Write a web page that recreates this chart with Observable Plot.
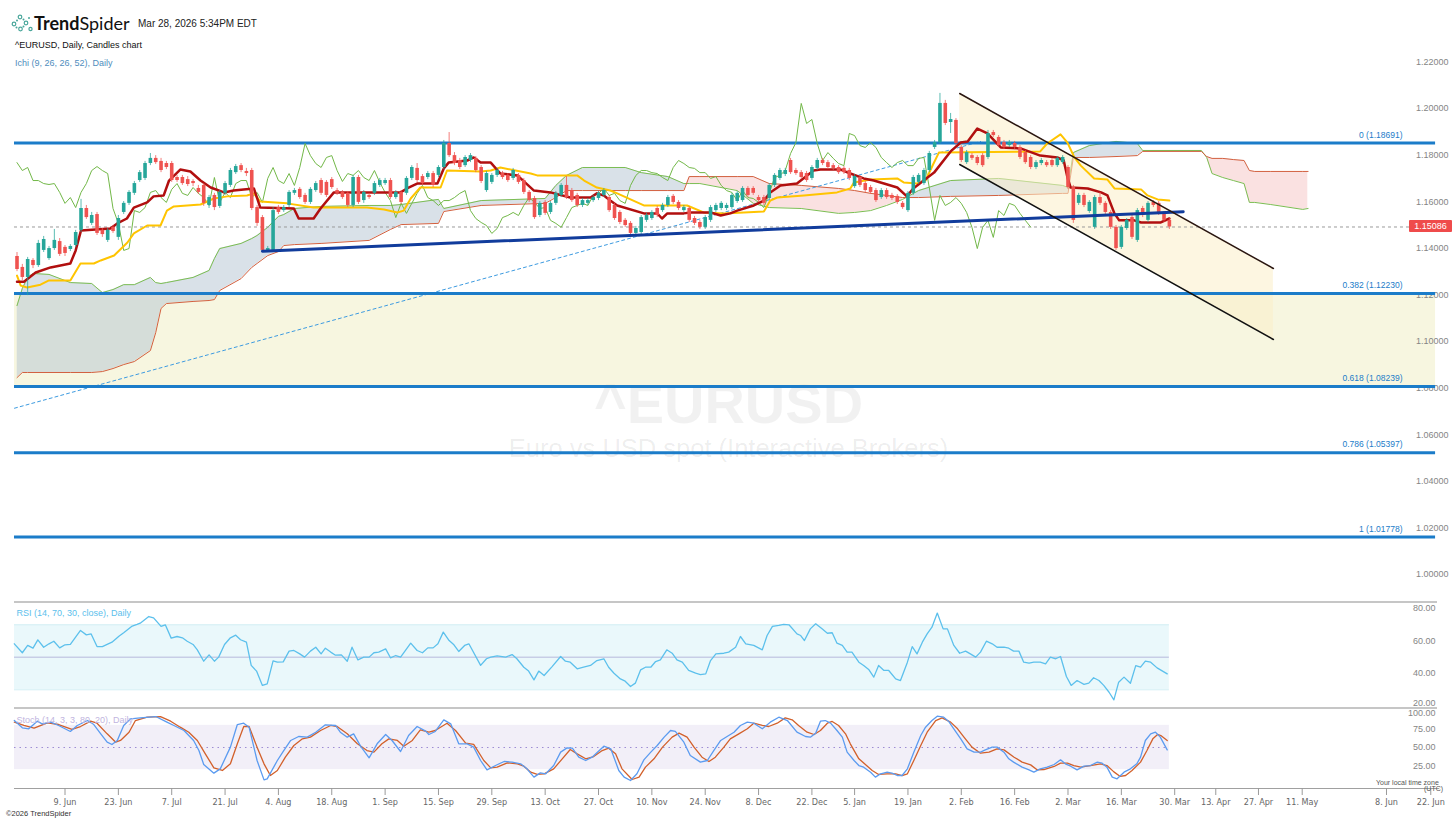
<!DOCTYPE html>
<html><head><meta charset="utf-8">
<script src="https://cdn.jsdelivr.net/npm/d3@7"></script>
<script src="https://cdn.jsdelivr.net/npm/@observablehq/plot@0.6"></script>
<style>
html,body{margin:0;padding:0;background:#fff;}
body{width:1456px;height:819px;position:relative;overflow:hidden;font-family:"Liberation Sans",Arial,sans-serif;}
.pane{position:absolute;left:0;}
.sep{position:absolute;left:14px;width:1423px;height:0;border-top:2px solid #c6c6c6;z-index:4;}
.hdr{position:absolute;z-index:5;white-space:nowrap;}
</style></head><body>
<div id="main" class="pane" style="top:0"></div>
<div id="rsi" class="pane" style="top:604px"></div>
<div id="stoch" class="pane" style="top:709px"></div>
<div class="sep" style="top:601px"></div>
<div class="sep" style="top:707px"></div>
<svg class="hdr" width="22" height="18" viewBox="0 0 22 18" style="left:11px;top:14px">
 <g fill="none" stroke="#4aa79b" stroke-width="1.2"><circle cx="3" cy="10" r="1.8"/><circle cx="9" cy="3" r="1.8"/><circle cx="9.5" cy="15" r="1.8"/><circle cx="15" cy="9" r="1.8"/><circle cx="19.5" cy="15" r="1.6"/></g>
 <g fill="#4aa79b"><circle cx="6" cy="6.5" r="1"/><circle cx="12.5" cy="5.5" r="1"/><circle cx="12.5" cy="12.5" r="1"/><circle cx="5.5" cy="13.5" r="1"/><circle cx="18" cy="4" r="1"/></g>
</svg>
<div class="hdr" style="left:34px;top:12px;font-family:Lato,'Open Sans',sans-serif;font-size:18px;color:#111;"><b>Trend</b>Spider</div>
<div class="hdr" style="left:138px;top:18px;font-size:10px;color:#222;">Mar 28, 2026 5:34PM EDT</div>
<div class="hdr" style="left:15px;top:40px;font-size:9px;color:#111;">^EURUSD, Daily, Candles chart</div>
<div class="hdr" style="left:15px;top:58px;font-size:9px;color:#4f8dbd;">Ichi (9, 26, 26, 52), Daily</div>
<div class="hdr" style="left:1376px;top:779px;font-size:7px;color:#555;">Your local time zone</div>
<div class="hdr" style="left:1424px;top:785px;font-size:7px;color:#555;">(UTC)</div>
<div class="hdr" style="left:6px;top:809px;font-size:7.5px;color:#333;">©2026 TrendSpider</div>
<div id="pricebox" class="hdr" style="left:1409px;width:43px;height:12px;background:#ef4b4b;color:#fff;font-size:9px;line-height:12px;text-align:center;border-radius:1px;"></div>
<script>
// ---------------- DATA ----------------
const openP = [1.1382,1.1335,1.1292,1.1365,1.1343,1.1408,1.1373,1.1416,1.1446,1.1421,
1.1412,1.1429,1.1494,1.1588,1.1524,1.1562,1.1494,1.1451,1.1507,1.1464,
1.1571,1.1610,1.1653,1.1708,1.1717,1.1781,1.1803,1.1790,1.1781,1.1781,
1.1721,1.1721,1.1712,1.1704,1.1674,1.1687,1.1601,1.1644,1.1597,1.1653,
1.1687,1.1742,1.1772,1.1747,1.1751,1.1592,1.1549,1.1408,1.1408,1.1592,
1.1579,1.1601,1.1653,1.1670,1.1644,1.1614,1.1665,1.1708,1.1700,1.1712,
1.1665,1.1657,1.1653,1.1601,1.1721,1.1622,1.1644,1.1653,1.1687,1.1695,
1.1708,1.1635,1.1657,1.1653,1.1717,1.1760,1.1725,1.1721,1.1738,1.1730,
1.1764,1.1867,1.1815,1.1794,1.1772,1.1794,1.1803,1.1764,1.1665,1.1700,
1.1730,1.1738,1.1730,1.1717,1.1730,1.1708,1.1657,1.1631,1.1558,1.1614,
1.1571,1.1610,1.1644,1.1687,1.1665,1.1644,1.1601,1.1610,1.1622,1.1631,
1.1644,1.1635,1.1601,1.1571,1.1537,1.1524,1.1481,1.1485,1.1537,1.1545,
1.1588,1.1579,1.1601,1.1640,1.1614,1.1579,1.1588,1.1545,1.1528,1.1507,
1.1537,1.1579,1.1588,1.1588,1.1592,1.1618,1.1622,1.1674,1.1674,1.1635,
1.1635,1.1631,1.1687,1.1717,1.1734,1.1794,1.1751,1.1742,1.1738,1.1717,
1.1760,1.1794,1.1785,1.1772,1.1764,1.1760,1.1751,1.1682,1.1721,1.1695,
1.1678,1.1665,1.1635,1.1665,1.1644,1.1640,1.1610,1.1579,1.1653,1.1700,
1.1695,1.1751,1.1850,1.1871,1.2039,1.1957,1.1966,1.1850,1.1785,1.1815,
1.1807,1.1815,1.1807,1.1914,1.1893,1.1871,1.1858,1.1867,1.1850,1.1828,
1.1807,1.1764,1.1781,1.1785,1.1794,1.1772,1.1785,1.1764,1.1678,1.1610,
1.1644,1.1575,1.1507,1.1635,1.1610,1.1571,1.1507,1.1421,1.1502,1.1549,
1.1451,1.1588,1.1537,1.1614,1.1610,1.1567,1.1537];
const closeP = [1.1326,1.1292,1.1369,1.1343,1.1438,1.1455,1.1416,1.1451,1.1391,1.1395,
1.1425,1.1485,1.1588,1.1549,1.1558,1.1481,1.1476,1.1494,1.1489,1.1545,
1.1610,1.1657,1.1695,1.1742,1.1781,1.1803,1.1785,1.1751,1.1764,1.1708,
1.1708,1.1695,1.1691,1.1695,1.1657,1.1610,1.1635,1.1592,1.1657,1.1695,
1.1751,1.1768,1.1751,1.1738,1.1588,1.1524,1.1408,1.1416,1.1579,1.1571,
1.1592,1.1657,1.1665,1.1635,1.1614,1.1670,1.1695,1.1653,1.1644,1.1678,
1.1653,1.1635,1.1601,1.1721,1.1614,1.1657,1.1635,1.1695,1.1708,1.1708,
1.1635,1.1657,1.1614,1.1717,1.1764,1.1708,1.1695,1.1738,1.1687,1.1764,
1.1867,1.1815,1.1781,1.1764,1.1807,1.1815,1.1751,1.1704,1.1738,1.1730,
1.1751,1.1721,1.1708,1.1751,1.1700,1.1657,1.1622,1.1549,1.1610,1.1567,
1.1610,1.1653,1.1687,1.1635,1.1622,1.1601,1.1622,1.1622,1.1635,1.1653,
1.1665,1.1579,1.1545,1.1528,1.1515,1.1481,1.1502,1.1549,1.1558,1.1571,
1.1558,1.1601,1.1635,1.1614,1.1588,1.1592,1.1537,1.1524,1.1507,1.1549,
1.1592,1.1601,1.1610,1.1601,1.1644,1.1653,1.1674,1.1644,1.1653,1.1622,
1.1610,1.1687,1.1730,1.1751,1.1751,1.1742,1.1738,1.1721,1.1708,1.1764,
1.1794,1.1781,1.1764,1.1760,1.1742,1.1742,1.1717,1.1725,1.1687,1.1665,
1.1657,1.1622,1.1665,1.1635,1.1631,1.1614,1.1592,1.1653,1.1721,1.1730,
1.1751,1.1824,1.1871,1.2039,1.1953,1.1970,1.1867,1.1794,1.1828,1.1803,
1.1781,1.1772,1.1910,1.1901,1.1858,1.1850,1.1871,1.1850,1.1807,1.1785,
1.1764,1.1785,1.1794,1.1772,1.1772,1.1803,1.1807,1.1678,1.1537,1.1644,
1.1601,1.1614,1.1635,1.1610,1.1571,1.1507,1.1416,1.1507,1.1537,1.1464,
1.1579,1.1558,1.1610,1.1601,1.1567,1.1537,1.15086];
const highP = [1.1399,1.1348,1.1378,1.1373,1.1451,1.1468,1.1425,1.1498,1.1459,1.1429,
1.1433,1.1494,1.1627,1.1601,1.1571,1.1571,1.1502,1.1502,1.1515,1.1558,
1.1618,1.1665,1.1704,1.1751,1.1790,1.1824,1.1815,1.1803,1.1790,1.1790,
1.1730,1.1730,1.1725,1.1712,1.1687,1.1695,1.1644,1.1653,1.1665,1.1704,
1.1760,1.1777,1.1781,1.1760,1.1760,1.1601,1.1558,1.1425,1.1592,1.1601,
1.1601,1.1665,1.1674,1.1678,1.1653,1.1678,1.1704,1.1717,1.1708,1.1721,
1.1674,1.1665,1.1661,1.1730,1.1730,1.1665,1.1653,1.1704,1.1717,1.1717,
1.1717,1.1665,1.1665,1.1725,1.1772,1.1781,1.1734,1.1747,1.1747,1.1772,
1.1880,1.1914,1.1828,1.1803,1.1815,1.1824,1.1811,1.1772,1.1747,1.1738,
1.1760,1.1747,1.1738,1.1760,1.1738,1.1717,1.1665,1.1640,1.1618,1.1622,
1.1618,1.1661,1.1695,1.1725,1.1674,1.1653,1.1631,1.1631,1.1644,1.1661,
1.1674,1.1644,1.1610,1.1579,1.1545,1.1532,1.1511,1.1558,1.1567,1.1579,
1.1597,1.1610,1.1644,1.1648,1.1622,1.1601,1.1597,1.1554,1.1537,1.1558,
1.1601,1.1610,1.1618,1.1610,1.1653,1.1661,1.1682,1.1682,1.1682,1.1644,
1.1644,1.1695,1.1738,1.1760,1.1760,1.1803,1.1760,1.1751,1.1747,1.1772,
1.1803,1.1803,1.1794,1.1781,1.1772,1.1768,1.1760,1.1734,1.1730,1.1704,
1.1687,1.1674,1.1674,1.1674,1.1653,1.1648,1.1618,1.1661,1.1730,1.1738,
1.1760,1.1833,1.1880,1.2082,1.2052,1.1996,1.1974,1.1858,1.1837,1.1824,
1.1815,1.1824,1.1923,1.1923,1.1901,1.1880,1.1880,1.1876,1.1858,1.1837,
1.1815,1.1794,1.1803,1.1794,1.1803,1.1811,1.1815,1.1772,1.1687,1.1653,
1.1653,1.1622,1.1644,1.1657,1.1618,1.1579,1.1515,1.1515,1.1545,1.1558,
1.1588,1.1597,1.1618,1.1622,1.1618,1.1575,1.1545];
const lowP = [1.1317,1.1279,1.1214,1.1330,1.1335,1.1399,1.1365,1.1408,1.1382,1.1382,
1.1403,1.1421,1.1485,1.1541,1.1515,1.1472,1.1464,1.1442,1.1481,1.1451,
1.1562,1.1601,1.1644,1.1700,1.1708,1.1772,1.1777,1.1742,1.1755,1.1700,
1.1700,1.1687,1.1682,1.1682,1.1648,1.1597,1.1588,1.1579,1.1588,1.1644,
1.1678,1.1734,1.1742,1.1725,1.1579,1.1511,1.1399,1.1399,1.1399,1.1562,
1.1571,1.1592,1.1644,1.1627,1.1605,1.1605,1.1657,1.1644,1.1635,1.1670,
1.1644,1.1627,1.1592,1.1592,1.1605,1.1610,1.1627,1.1644,1.1678,1.1687,
1.1627,1.1627,1.1605,1.1644,1.1708,1.1700,1.1687,1.1712,1.1678,1.1721,
1.1755,1.1807,1.1772,1.1755,1.1764,1.1785,1.1742,1.1695,1.1657,1.1691,
1.1721,1.1712,1.1700,1.1708,1.1691,1.1648,1.1614,1.1541,1.1549,1.1558,
1.1562,1.1601,1.1635,1.1627,1.1614,1.1592,1.1592,1.1601,1.1614,1.1622,
1.1635,1.1571,1.1537,1.1519,1.1507,1.1472,1.1472,1.1476,1.1528,1.1537,
1.1549,1.1571,1.1592,1.1605,1.1579,1.1571,1.1528,1.1515,1.1498,1.1498,
1.1528,1.1571,1.1579,1.1579,1.1584,1.1610,1.1614,1.1635,1.1644,1.1614,
1.1601,1.1622,1.1678,1.1708,1.1725,1.1734,1.1730,1.1712,1.1700,1.1708,
1.1751,1.1772,1.1755,1.1751,1.1734,1.1734,1.1708,1.1674,1.1678,1.1657,
1.1648,1.1614,1.1627,1.1627,1.1622,1.1605,1.1584,1.1571,1.1644,1.1691,
1.1687,1.1742,1.1841,1.1863,1.1944,1.1910,1.1858,1.1785,1.1777,1.1794,
1.1772,1.1764,1.1798,1.1893,1.1850,1.1841,1.1850,1.1841,1.1798,1.1777,
1.1755,1.1755,1.1772,1.1764,1.1764,1.1764,1.1777,1.1670,1.1524,1.1601,
1.1592,1.1567,1.1498,1.1601,1.1562,1.1498,1.1408,1.1412,1.1494,1.1455,
1.1442,1.1549,1.1528,1.1592,1.1558,1.1528,1.1498];

// Ichimoku (9, 26, 26, 52) lines (bar index, price)
const tenkanIdx = [0,1.3,3.5,6.3,10,11,12,17.5,18.8,20.6,21.9,24.4,25.6,27.5,28.5,30.6,32.5,34.4,36.3,38.8,40.6,44.4,45.6,51.9,52.8,55.6,56.9,59.4,71.9,73.1,75,78.8,80,80.9,84.4,85.6,86.9,88.8,90.6,93.8,94.4,96.9,100,103.7,107.5,108.7,110,111.2,112.5,117.5,120,120.9,121.9,125,126.2,130,131.9,133.7,135,138.1,140,141.2,143.1,146.2,149.3,150.6,154.4,156.2,158.7,160.6,162.5,165,166.8,168,171.9,175,176.9,178.2,180,181.9,184.4,188.1,191.8,195,196.2,196.9,197.5,200.7,203.2,204.4,205.7,206.6,209.4,210.7,214.4,216];
const tenkanVal = [1.1274,1.1274,1.1313,1.1335,1.1352,1.1408,1.1494,1.1502,1.1524,1.1545,1.1592,1.1614,1.1640,1.1644,1.1708,1.1755,1.1747,1.1708,1.1678,1.1657,1.1665,1.1674,1.1592,1.1588,1.1545,1.1545,1.1588,1.1657,1.1657,1.1674,1.1695,1.1695,1.1760,1.1785,1.1794,1.1807,1.1785,1.1785,1.1738,1.1730,1.1717,1.1665,1.1657,1.1635,1.1635,1.1653,1.1644,1.1622,1.1601,1.1567,1.1567,1.1545,1.1567,1.1567,1.1571,1.1571,1.1558,1.1567,1.1579,1.1601,1.1622,1.1657,1.1687,1.1695,1.1751,1.1755,1.1755,1.1738,1.1717,1.1708,1.1695,1.1678,1.1640,1.1674,1.1742,1.1833,1.1871,1.1876,1.1931,1.1910,1.1850,1.1846,1.1815,1.1807,1.1794,1.1721,1.1678,1.1674,1.1657,1.1644,1.1567,1.1537,1.1537,1.1528,1.1528,1.1545];
const kijunIdx = [0,0.7,1.9,4.4,6,10,11.9,14.4,15.7,18.2,20.7,21.9,24.4,26.9,28.1,29.4,34.4,36.9,39.4,43.1,44.4,45.6,50.6,55.6,65.6,68.8,71.3,72.5,73.8,75.6,79.4,80.6,86.9,88.8,90.6,96.3,97.5,105,106.3,108.7,111.2,112.5,117.5,125.6,128.7,132.5,140,141.2,142.5,147.5,153.7,156.2,156.9,160,165,166.2,168.7,170.3,171.8,172.8,191.8,193.1,195.6,196.9,198.2,199.4,201.9,204.4,205.7,210.7,211.9,213.8,216];
const kijunVal = [1.1300,1.1257,1.1249,1.1261,1.1279,1.1279,1.1352,1.1352,1.1365,1.1386,1.1442,1.1481,1.1515,1.1515,1.1579,1.1597,1.1605,1.1631,1.1640,1.1644,1.1653,1.1618,1.1610,1.1592,1.1592,1.1584,1.1571,1.1579,1.1631,1.1678,1.1678,1.1751,1.1747,1.1751,1.1764,1.1738,1.1730,1.1730,1.1708,1.1678,1.1665,1.1653,1.1601,1.1601,1.1571,1.1567,1.1575,1.1622,1.1635,1.1644,1.1657,1.1674,1.1700,1.1712,1.1717,1.1700,1.1695,1.1708,1.1781,1.1828,1.1833,1.1867,1.1906,1.1871,1.1807,1.1772,1.1717,1.1712,1.1674,1.1670,1.1644,1.1627,1.1622];
const cloudIdx = [0,1,2,3,6,10,14,16,18,20,22,25,26,27,28,33,36,37,38,42,44,45,47,49,50,52,57,66,70,72,79,80,87,99,101,103,106,114,117,122,125,126,128,135,138,141,147,154,157,160,163,166,169,175,184,196,197,198,201,206,210,211,222,223,224,226,228,230,231,232,235,241,242];
const senkouA = [1.1171,1.1245,1.1292,1.1309,1.1305,1.1270,1.1266,1.1227,1.1240,1.1261,
1.1261,1.1292,1.1270,1.1266,1.1270,1.1292,1.1322,1.1373,1.1416,1.1438,
1.1459,1.1472,1.1507,1.1554,1.1562,1.1588,1.1597,1.1601,1.1601,1.1605,
1.1627,1.1588,1.1622,1.1631,1.1687,1.1730,1.1764,1.1764,1.1742,1.1725,
1.1695,1.1695,1.1695,1.1665,1.1610,1.1592,1.1588,1.1567,1.1571,1.1579,
1.1601,1.1627,1.1665,1.1708,1.1717,1.1687,1.1678,1.1828,1.1858,1.1876,
1.1867,1.1837,1.1837,1.1807,1.1738,1.1721,1.1708,1.1695,1.1614,1.1614,
1.1605,1.1584,1.1588];
const senkouB = [1.0862,1.0884,1.0884,1.0884,1.0884,1.0884,1.0884,1.0888,1.0901,1.0918,
1.0931,1.0978,1.1055,1.1159,1.1180,1.1189,1.1193,1.1197,1.1236,1.1287,
1.1335,1.1352,1.1386,1.1403,1.1429,1.1433,1.1438,1.1451,1.1498,1.1519,
1.1524,1.1575,1.1601,1.1610,1.1635,1.1665,1.1665,1.1665,1.1665,1.1665,
1.1665,1.1725,1.1725,1.1725,1.1725,1.1695,1.1687,1.1674,1.1665,1.1653,
1.1644,1.1635,1.1635,1.1640,1.1644,1.1653,1.1653,1.1807,1.1807,1.1811,
1.1815,1.1833,1.1833,1.1811,1.1803,1.1803,1.1798,1.1794,1.1751,1.1747,
1.1747,1.1747,1.1747];
const CHIKOU_LAG = 26;

// RSI (14, 70, 30) and Stoch (14, 3, 3, 80, 20) as read
const rsiIdx = [-0.5,1,2,3,3.9,5,6,6.9,8,9,10,11.9,13,13.9,15,16,17.8,19.1,20,21.6,22.5,23.1,24.7,25.6,27,27.8,28.9,30,31,31.9,33,33.8,35,36,37,37.8,38.9,40,41,41.9,43,43.9,44.9,46,46.9,48,48.8,49.9,51,51.9,53,53.9,55,56,57,57.8,58.8,59.7,60.8,61.9,62.8,63.9,65,66,66.9,67.8,69.1,70,71,71.9,73.8,75,76,77,78,78.9,79.9,81,81.9,82.8,83.9,84.7,86.9,88,88.8,90,91.6,92.8,93.7,95,95.9,96.9,97.8,98.8,100.3,101.9,102.8,103.7,105,106.2,107.5,108.7,110,110.9,111.9,113.1,114,115,115.9,116.9,117.8,118.8,119.7,120.6,121.8,122.8,123.7,124.7,125.9,127.2,128.1,129.1,130,131,132.5,133.4,134.7,135.6,136.6,138.1,139.7,140.6,141.6,142.8,143.7,144.7,146.2,146.9,147.6,148.7,149.7,150.9,151.9,152.8,153.7,154.7,155.6,156.5,157.8,158.7,159.7,160.6,161.5,162.5,163.4,164.7,165.6,166.9,167.8,168.7,169.7,170.6,171.5,172.5,173.6,174.4,175.6,176.7,177.8,178.7,179.7,180.6,181.7,182.8,183.7,185,185.9,186.8,187.8,188.7,189.7,190.6,191.8,192.8,193.7,194.7,195.6,196.7,197.6,198.7,200,200.9,201.8,202.8,203.7,204.7,205.6,206.5,207.5,208.7,209.7,210.6,211.5,212.5,213.7,215.6];
const rsiVal = [58.3,52.8,57.3,55.6,60.7,56.2,58.3,59.9,55.8,57.7,57.9,66.5,63.8,64.4,56.6,56.6,59.3,63,65.1,69.2,70.2,71,75.1,74.3,69,70,61.8,62.8,62,59.9,57.9,54.6,47.6,51.5,47.6,50.1,57.9,62,63.6,60.8,59.3,45,41.5,32.7,33.7,47.8,47,47.2,53.8,54.2,52.1,50.1,53.8,56.2,52.1,55.6,53.2,51.3,51.5,47.6,56.2,48.4,50.1,50.1,52.8,53.2,55.2,49.7,51.1,50.1,58.7,54.2,52.8,55.8,55.8,58.3,65.5,60.3,57.7,53.6,57.3,58.3,45,49.1,50.1,50.9,50.1,51.7,49.1,43.9,41.5,36.1,41.5,38.8,44.3,50.5,47.6,47,42.9,43.9,45,48,49.1,43.9,40.2,36.7,35.3,32,34.1,42.3,43.9,43.9,47.4,48.4,54.6,52.5,48.4,47,41.9,40.2,39.4,39.8,48,52.1,52.5,53.2,56.2,62.8,58.3,57.3,54.6,63.4,69,69.6,70.2,70,64.4,63.4,60.3,67.5,70.6,67.5,64.8,65.1,58.7,57.3,53.2,53.2,47,45,42.3,37.8,45,41.9,41.9,36.7,35.7,47,56.6,52.1,59.3,64.4,68.5,77.2,67.5,67.5,57.3,52.5,53.8,52.1,50.1,53.2,59.9,58.3,56.2,56.2,55.6,53.8,53.8,47,46.4,47,47,46,50.1,49.1,50.5,38.2,32.7,35.7,33.3,34.1,37.4,35.7,32.7,28.5,23.8,34.7,37.8,34,44.9,43.9,47.6,47,43.5,39.8];
const stochKIdx = [-0.5,1,2.2,3.8,4.7,6.3,7.8,10,11.3,13.2,14.4,15.7,16.9,17.8,18.8,20,21.3,23.1,26,28.1,29.4,31.3,33.1,34.1,35,36.9,38.1,40,41.3,42.5,43.5,45,46.3,46.9,48.8,50,51.3,52.8,54.4,56,57.8,59.7,60.6,61.9,63.1,64.4,66,67.5,69.1,70.3,71.9,73.4,75,76.6,77.2,78.4,80,81.3,82.8,84.4,85.6,86.9,88.1,89.7,91.3,92.8,94.4,95.6,96.9,98.1,99.1,100.6,101.9,103.1,104.1,105.3,106.6,107.8,108.8,110,111.3,112.8,113.8,115,116.2,117.5,118.8,120,121.3,122.5,123.4,125,126.2,128.1,129.4,130.6,131.9,133.1,134.4,135.6,136.9,138.1,139.7,141.2,142.8,144.4,146.2,147.8,148.7,149.7,150.6,151.5,152.5,153.7,154.7,155.6,156.9,157.8,158.7,160,160.9,161.9,163.1,164,165,165.9,166.9,168.1,169.4,170.3,171.5,172.5,173.7,174.6,175.6,176.9,178.1,179.4,180.6,181.5,182.8,183.7,185,185.9,186.8,188.4,189.7,190.6,191.8,193.1,194.4,195.6,196.5,197.5,198.7,200,201.2,202.5,203.4,204.3,205.3,206.2,207.5,208.7,209.9,210.6,211.5,212.5,213.4,214.3,215.6];
const stochKVal = [86.5,76.6,75.3,85.6,82,84.3,79.8,71.7,79.8,86.5,81.1,68.5,57.2,54.1,59.5,79.8,88.8,90.1,91.9,84.3,79.8,73,59.5,45.9,27,15.3,21.1,50.5,81.1,82.9,77.5,32.4,6.2,7.6,32.4,45.9,59.5,64.9,64,70.7,80.7,79.8,70.7,64,68.5,51.8,36,55,67.6,59.5,44.6,66.2,78.4,72.1,67.6,71.7,87.4,82,55,55,50.5,32.4,19.8,25.6,31.1,30.2,27.9,21.1,9.9,15.7,14.4,25.6,43.7,49.5,49.1,36.9,32.4,36.9,43.7,51.8,48.2,18.9,9.9,5.3,14.4,33.3,43.7,52.7,64,73,71.7,57.2,39.2,30.2,32.4,45.9,59.5,64.9,70.7,79.8,84.3,82.9,75.3,84.3,91,86.5,70.7,64.9,64,69.4,85.6,86.5,82.9,73,64,43.7,32.4,25.6,23.4,16.6,9.9,14.4,16.6,15.3,12.1,12.1,21.1,43.7,66.2,77.5,86.5,92.4,91,85.6,75.3,61.7,48.2,43.7,43.7,46.8,50.5,50.5,43.7,34.7,30.2,23.4,19.8,16.6,21.1,23.4,27,33.3,27.9,24.7,19.8,24.7,25.6,30.2,28.8,23.4,9.9,7.6,16.6,21.1,27.9,36.9,59.5,68.5,70.7,64,46.8];
const stochDIdx = [-0.5,1.3,3.2,5.7,7.8,10.3,11.9,13.8,15,16.9,18.5,19.4,21,22.2,24.4,26.9,28.8,30.6,32.2,33.8,35.3,36.9,38.5,40,41.3,42.5,43.5,45,46.3,47.5,48.8,50.3,51.9,53.5,55,56.9,58.8,60,61.9,63.8,65.6,66.9,68.4,69.7,71.3,72.5,74.1,75.6,77.2,78.4,80.6,82.2,84.1,85.6,87.5,88.8,90,91.9,93.8,95,96.3,97.5,98.8,100.6,102.2,103.7,105,106.6,108.1,109.7,110.9,112.2,113.4,115.3,116.6,117.8,119.4,121,122.8,124.1,125.6,126.9,128.4,129.7,130.9,132.5,133.7,135.3,136.9,138.1,139.7,140.9,142.5,144,145.3,146.5,148.1,149.4,150.6,151.9,152.8,154,155.3,156.2,157.8,159.4,160.3,161.5,163.1,164.7,165.9,166.9,168.1,169.4,170.6,172.2,173.4,175,176.3,177.5,179,180.6,182.2,183.7,185,186.9,188.4,190,191.2,192.5,194.4,195.6,196.9,198.1,199.4,201.2,203.1,204.3,205.6,206.8,207.8,209,210.6,211.8,212.9,213.8,214.4,215.6];
const stochDVal = [84.3,79.8,76.2,83.4,81.1,74.4,78.4,85.6,82.9,68.5,57.2,59.5,70.7,86.5,91,91.9,85.6,77.5,70.7,59.5,41.4,22.5,18.9,27.9,55,78.4,78.4,50.5,27.9,12.1,18.9,36.9,52.7,61.7,64,73,79.8,78.4,68.5,55,45.9,43.7,55,61.7,59.5,51.8,59.5,73.9,70.7,73,82.9,73,55.9,54.1,32.4,22.5,23.4,29.3,27.9,24.7,16.6,13.5,14.4,21.1,34.7,47.3,41.4,34.7,37.8,45.9,49.1,41.4,21.1,6.7,9.9,23.4,34.7,50.5,64,69.4,64,50.5,36.9,31.1,36.9,50.5,61.7,68.5,75.3,82.9,79.8,78.4,82.9,90.1,87.4,79.8,70.7,67.6,73,82.9,85.2,79.8,68.5,55,34.7,24.7,18.9,13.5,14.4,14.4,12.1,14.4,32.4,52.7,70.7,86.5,90.1,84.3,75.3,64,50.5,42.3,43.7,48.2,46.8,36.9,30.2,26.5,19.8,20.2,24.3,28.8,28.8,25.6,23.4,25.6,27.9,25.6,17,10.8,12.1,18.9,30.2,45.9,61.7,67.6,66.2,59.5];

// Drawing tools on the chart
const fibLevels = ["0", "0.382", "0.618", "0.786", "1"];
const fibPrices = [1.18691, 1.12230, 1.08239, 1.05397, 1.01778];
const lastPrice = 1.15086;
const trendIdx = [46, 218.6], trendVal = [1.14047, 1.15738];
const dottedIdx = [-0.47, 180.6], dottedVal = [1.07307, 1.18755];
const channelIdx = [176.7, 235.5], channelUpper = [1.20816, 1.13304], channelLower = [1.17768, 1.10256];

// Axes
const tickIdx = [9,19,29,39,49,59,69,79,89,99,109,119,129,139,149,157,167,177,187,197,207,217,224.7,232.7,240.9,256.7,265];
const tickLabels = ["9. Jun","23. Jun","7. Jul","21. Jul","4. Aug","18. Aug","1. Sep","15. Sep","29. Sep","13. Oct","27. Oct","10. Nov","24. Nov","8. Dec","22. Dec","5. Jan","19. Jan","2. Feb","16. Feb","2. Mar","16. Mar","30. Mar","13. Apr","27. Apr","11. May","8. Jun","22. Jun"];
const priceTicks = [1.00,1.02,1.04,1.06,1.08,1.10,1.12,1.14,1.16,1.18,1.20,1.22];
const rsiTicks = [40,60,80], rsiLowTick = [20];
const stochTicks = [25,50,75], stochTopTick = [100];

// ---------------- LAYOUT ----------------
const W = 1456;
const X_DOMAIN = [-3.0928, 269.822];     // bar index at the page edges
const SPAN0 = -0.47, FIB_END = 265.9, PRICE_LINE_END = 261.6, FIB_LABEL_X = 259.7, OSC_END = 216, AXIS_END = 266.7;
const baseStyle = {fontFamily: "'Liberation Sans', Arial, sans-serif", fontSize: "9px", color: "#808080", background: "transparent", overflow: "visible"};

const candles = closeP.map((c, i) => ({i, o: openP[i], h: highP[i], l: lowP[i], c}));
const UP = "#26a69a", DOWN = "#ef5350";
const col = d => d.c >= d.o ? UP : DOWN;
const pairs = (idx, val) => idx.map((i, k) => ({i, v: val[k]}));
const tenkan = pairs(tenkanIdx, tenkanVal);
const kijun = pairs(kijunIdx, kijunVal);
const cloud = cloudIdx.map((i, k) => ({i, a: senkouA[k], b: senkouB[k]}));
const chikou = candles.filter(d => d.i >= CHIKOU_LAG).map(d => ({i: d.i - CHIKOU_LAG, v: d.c}));
const trend = pairs(trendIdx, trendVal);
const dotted = pairs(dottedIdx, dottedVal);
const channel = channelIdx.map((i, k) => ({i, hi: channelUpper[k], lo: channelLower[k]}));
const fibs = fibLevels.map((level, k) => ({level, p: fibPrices[k]}));
const tickMap = new Map(tickIdx.map((t, k) => [t, tickLabels[k]]));

function cloudFill() {
  if (Plot.differenceY) {
    return [Plot.differenceY(cloud, {x: "i", y1: "b", y2: "a", positiveFill: "#b3c4d1", negativeFill: "#f3bcbc",
      positiveFillOpacity: 0.5, negativeFillOpacity: 0.45, stroke: "none"})];
  }
  const rows = []; let seg = 0, prev = null;
  cloud.forEach((d, k) => {
    const s = d.a >= d.b;
    if (prev !== null && s !== prev) { rows.push({...cloud[k - 1], seg: seg + 1, s}); seg++; }
    rows.push({...d, seg, s}); prev = s;
  });
  return [Plot.areaY(rows, {x: "i", y1: "b", y2: "a", z: "seg", fill: d => d.s ? "#b3c4d1" : "#f3bcbc", fillOpacity: 0.48})];
}

// ---------------- MAIN PANE ----------------
const main = Plot.plot({
  width: W, height: 603, margin: 0,
  x: {domain: X_DOMAIN, axis: null},
  y: {domain: [0.98924, 1.24808], axis: null},
  style: baseStyle,
  marks: [
    Plot.rect([fibPrices], {x1: SPAN0, x2: FIB_END, y1: d => d[2], y2: d => d[1], fill: "#f7f6e0"}),
    Plot.text(["^EURUSD"], {frameAnchor: "top", dy: 383, fontSize: 56, fontWeight: "bold", fill: "#000", fillOpacity: 0.055, fontFamily: "'Liberation Sans', Arial, sans-serif"}),
    Plot.text(["Euro vs USD spot (Interactive Brokers)"], {frameAnchor: "top", dy: 438, fontSize: 25.5, fill: "#000", fillOpacity: 0.08, fontFamily: "'Liberation Sans', Arial, sans-serif"}),
    ...cloudFill(),
    Plot.line(cloud, {x: "i", y: "a", stroke: "#7bbd52", strokeWidth: 1}),
    Plot.line(cloud, {x: "i", y: "b", stroke: "#d2603f", strokeWidth: 1}),
    Plot.areaY(channel, {x: "i", y1: "lo", y2: "hi", fill: "#fcefc8", fillOpacity: 0.55}),
    Plot.line(dotted, {x: "i", y: "v", stroke: "#3d9be0", strokeWidth: 1, strokeDasharray: "3,3"}),
    Plot.axisY(priceTicks, {anchor: "right", label: null, tickSize: 0, tickPadding: 0, textAnchor: "end", dx: -8, dy: -4, tickFormat: d => d.toFixed(5), fill: "#858585", fontSize: 9}),
    Plot.ruleY(fibPrices, {x1: SPAN0, x2: FIB_END, stroke: "#1b7cc9", strokeWidth: 3}),
    Plot.text(fibs, {x: FIB_LABEL_X, y: "p", text: d => `${d.level} (${d.p.toFixed(5)})`, textAnchor: "end", dy: -8, fill: "#1b7cc9", fontSize: 8.5}),
    Plot.ruleY([lastPrice], {x1: SPAN0, x2: PRICE_LINE_END, stroke: "#9a9a9a", strokeWidth: 1, strokeDasharray: "3,3"}),
    Plot.line(chikou, {x: "i", y: "v", stroke: "#72b848", strokeWidth: 1}),
    Plot.line(kijun, {x: "i", y: "v", stroke: "#ffc400", strokeWidth: 2}),
    Plot.line(tenkan, {x: "i", y: "v", stroke: "#b10f0f", strokeWidth: 2.5}),
    Plot.ruleX(candles, {x: "i", y1: "l", y2: "h", stroke: col, strokeWidth: 1, strokeOpacity: 0.75}),
    Plot.ruleX(candles, {x: "i", y1: "o", y2: "c", stroke: col, strokeWidth: 3.6}),
    Plot.line(trend, {x: "i", y: "v", stroke: "#113c9c", strokeWidth: 3}),
    Plot.line(channel, {x: "i", y: "hi", stroke: "#2a1610", strokeWidth: 1.5}),
    Plot.line(channel, {x: "i", y: "lo", stroke: "#111", strokeWidth: 1.5})
  ]
});
document.getElementById("main").append(main);
const pb = document.getElementById("pricebox");
pb.textContent = lastPrice.toFixed(5);
pb.style.top = (main.scale("y").apply(lastPrice) - 6) + "px";

// ---------------- RSI PANE ----------------
const rsi = pairs(rsiIdx, rsiVal);
const oscAxis = (ticks, extra) => Plot.axisY(ticks, {anchor: "right", label: null, tickSize: 0, tickPadding: 0, textAnchor: "end", dx: -21,
  tickFormat: d => d.toFixed(2), fill: "#858585", fontSize: 9, ...extra});
const rsiPlot = Plot.plot({
  width: W, height: 105, margin: 0,
  x: {domain: X_DOMAIN, axis: null},
  y: {domain: [17.88, 82.49], axis: null},
  style: baseStyle,
  marks: [
    Plot.rect([0], {x1: SPAN0, x2: OSC_END, y1: 30, y2: 70, fill: "#eaf8fb"}),
    Plot.ruleY([30, 70], {x1: SPAN0, x2: OSC_END, stroke: "#d3eef4"}),
    Plot.ruleY([50], {x1: SPAN0, x2: OSC_END, stroke: "#c7cde6", strokeWidth: 1.5}),
    Plot.line(rsi, {x: "i", y: "v", stroke: "#5cc0ec", strokeWidth: 1.3}),
    oscAxis(rsiTicks, {}),
    oscAxis(rsiLowTick, {dy: -3}),
    Plot.text(["RSI (14, 70, 30, close), Daily"], {frameAnchor: "top-left", dx: 16, dy: 5, textAnchor: "start", fill: "#5cc0ec", fontSize: 9})
  ]
});
document.getElementById("rsi").append(rsiPlot);

// ---------------- STOCH PANE + TIME AXIS ----------------
const stK = pairs(stochKIdx, stochKVal);
const stD = pairs(stochDIdx, stochDVal);
const STOCH_DOMAIN = [-5.48, 101.42];
const stochPlot = Plot.plot({
  width: W, height: 110, marginTop: 0, marginBottom: 31, marginLeft: 0, marginRight: 0,
  x: {domain: X_DOMAIN, axis: null},
  y: {domain: STOCH_DOMAIN, axis: null},
  style: baseStyle,
  marks: [
    Plot.rect([0], {x1: SPAN0, x2: OSC_END, y1: 20, y2: 80, fill: "#f2eff8"}),
    Plot.ruleY([50], {x1: SPAN0, x2: OSC_END, stroke: "#9c8bd3", strokeWidth: 1, strokeDasharray: "1.5,4"}),
    Plot.line(stD, {x: "i", y: "v", stroke: "#d2602b", strokeWidth: 1.3}),
    Plot.line(stK, {x: "i", y: "v", stroke: "#5b9bf0", strokeWidth: 1.3}),
    oscAxis(stochTicks, {}),
    oscAxis(stochTopTick, {dy: 3}),
    Plot.text(["Stoch (14, 3, 3, 80, 20), Daily"], {frameAnchor: "top-left", dx: 16, dy: 7, textAnchor: "start", fill: "#c1b5e0", fontSize: 9}),
    Plot.ruleY([STOCH_DOMAIN[0]], {x1: SPAN0, x2: AXIS_END, stroke: "#a0a0a0", strokeWidth: 1}),
    Plot.axisX(tickIdx, {anchor: "bottom", label: null, tickSize: 7, tickPadding: 3, tickFormat: d => tickMap.get(d), stroke: "#9a9a9a", fill: "#666",
      fontSize: 9, fontFamily: "'Liberation Sans Narrow', 'DejaVu Sans Condensed', 'Liberation Sans', sans-serif"})
  ]
});
document.getElementById("stoch").append(stochPlot);
</script>
</body></html>
